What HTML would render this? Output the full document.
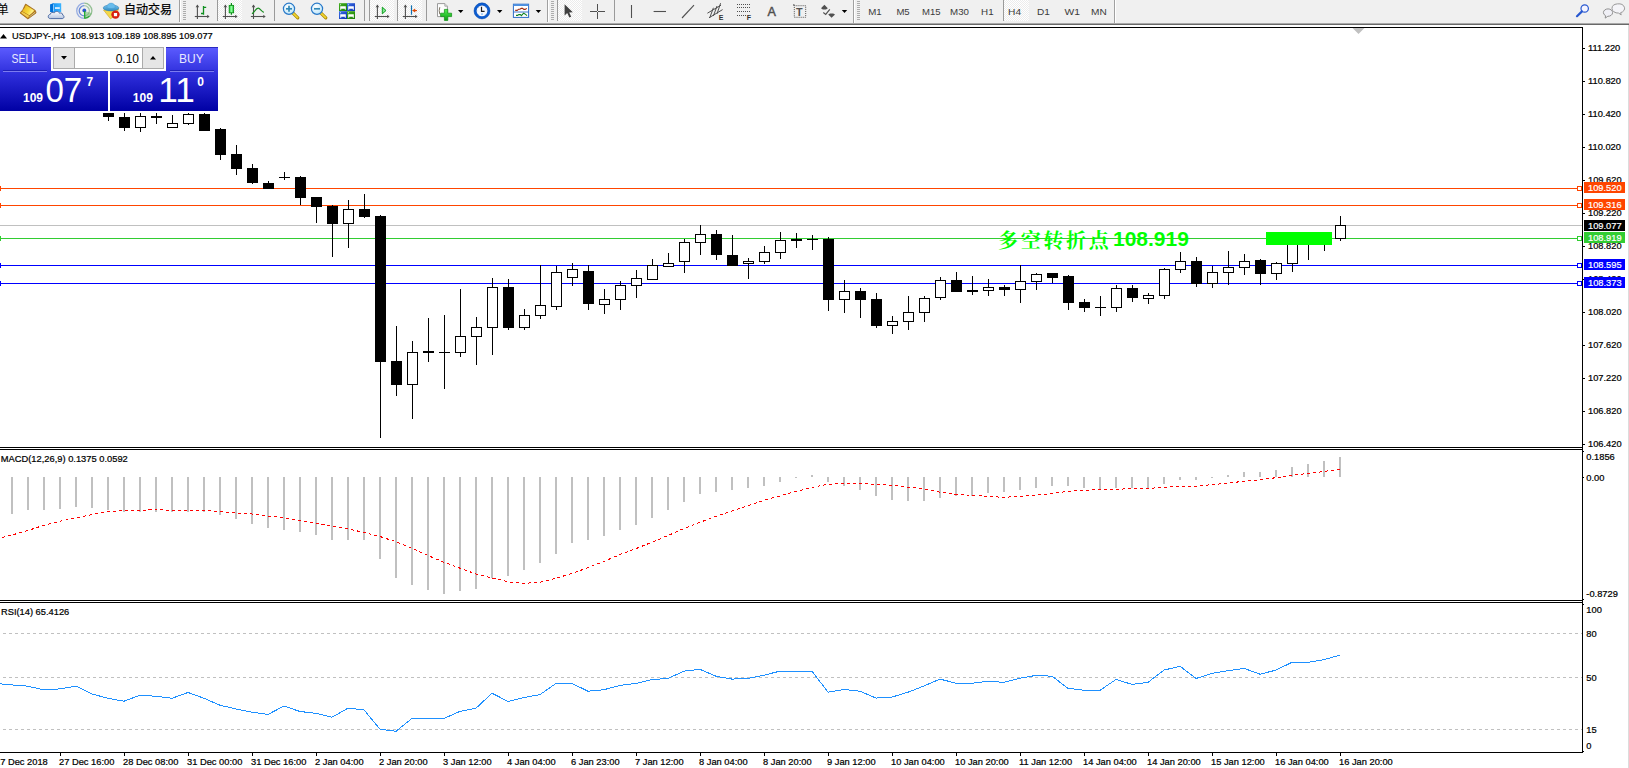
<!DOCTYPE html>
<html><head><meta charset="utf-8"><title>USDJPY H4</title>
<style>
html,body{margin:0;padding:0;background:#fff;}
body{width:1629px;height:768px;position:relative;overflow:hidden;font-family:"Liberation Sans","Noto Sans CJK SC",sans-serif;}
#tb{position:absolute;left:0;top:0;width:1629px;height:23px;background:#F0F0F0;}
#tbl1{position:absolute;left:0;top:23px;width:1629px;height:1px;background:#A9A9A9;}
#tbl2{position:absolute;left:0;top:24px;width:1629px;height:1px;background:#696969;}
#redge{position:absolute;left:1628px;top:25px;width:1px;height:743px;background:#DCDCDC;}
</style></head><body>
<svg id="chart" width="1629" height="768" viewBox="0 0 1629 768" style="position:absolute;left:0;top:0">
<g shape-rendering="crispEdges">
<rect x="0" y="225" width="1582" height="1" fill="#C0C0C0"/>
<rect x="0" y="188" width="1582" height="1" fill="#FF4500"/>
<rect x="0" y="186" width="1" height="5" fill="#FF4500"/>
<rect x="0" y="205" width="1582" height="1" fill="#FF4500"/>
<rect x="0" y="203" width="1" height="5" fill="#FF4500"/>
<rect x="0" y="238" width="1582" height="1" fill="#32CD32"/>
<rect x="0" y="236" width="1" height="5" fill="#32CD32"/>
<rect x="0" y="265" width="1582" height="1" fill="#0000FF"/>
<rect x="0" y="263" width="1" height="5" fill="#0000FF"/>
<rect x="0" y="283" width="1582" height="1" fill="#0000FF"/>
<rect x="0" y="281" width="1" height="5" fill="#0000FF"/>
<rect x="108" y="113" width="1" height="8" fill="#000"/>
<rect x="103" y="113" width="11" height="4" fill="#000"/>
<rect x="124" y="113" width="1" height="18" fill="#000"/>
<rect x="119" y="117" width="11" height="11" fill="#000"/>
<rect x="140" y="113" width="1" height="19" fill="#000"/>
<rect x="135" y="116" width="11" height="12" fill="#000"/>
<rect x="136" y="117" width="9" height="10" fill="#fff"/>
<rect x="156" y="113" width="1" height="11" fill="#000"/>
<rect x="151" y="116" width="11" height="2" fill="#000"/>
<rect x="172" y="115" width="1" height="13" fill="#000"/>
<rect x="167" y="123" width="11" height="5" fill="#000"/>
<rect x="168" y="124" width="9" height="3" fill="#fff"/>
<rect x="188" y="113" width="1" height="12" fill="#000"/>
<rect x="183" y="114" width="11" height="10" fill="#000"/>
<rect x="184" y="115" width="9" height="8" fill="#fff"/>
<rect x="204" y="113" width="1" height="18" fill="#000"/>
<rect x="199" y="114" width="11" height="17" fill="#000"/>
<rect x="220" y="128" width="1" height="32" fill="#000"/>
<rect x="215" y="129" width="11" height="26" fill="#000"/>
<rect x="236" y="145" width="1" height="30" fill="#000"/>
<rect x="231" y="154" width="11" height="15" fill="#000"/>
<rect x="252" y="164" width="1" height="20" fill="#000"/>
<rect x="247" y="168" width="11" height="15" fill="#000"/>
<rect x="268" y="181" width="1" height="8" fill="#000"/>
<rect x="263" y="183" width="11" height="6" fill="#000"/>
<rect x="284" y="172" width="1" height="8" fill="#000"/>
<rect x="279" y="177" width="11" height="1" fill="#000"/>
<rect x="300" y="176" width="1" height="29" fill="#000"/>
<rect x="295" y="177" width="11" height="21" fill="#000"/>
<rect x="316" y="197" width="1" height="26" fill="#000"/>
<rect x="311" y="197" width="11" height="10" fill="#000"/>
<rect x="332" y="205" width="1" height="52" fill="#000"/>
<rect x="327" y="206" width="11" height="18" fill="#000"/>
<rect x="348" y="200" width="1" height="48" fill="#000"/>
<rect x="343" y="209" width="11" height="15" fill="#000"/>
<rect x="344" y="210" width="9" height="13" fill="#fff"/>
<rect x="364" y="194" width="1" height="24" fill="#000"/>
<rect x="359" y="209" width="11" height="8" fill="#000"/>
<rect x="380" y="215" width="1" height="223" fill="#000"/>
<rect x="375" y="216" width="11" height="146" fill="#000"/>
<rect x="396" y="326" width="1" height="70" fill="#000"/>
<rect x="391" y="361" width="11" height="24" fill="#000"/>
<rect x="412" y="341" width="1" height="78" fill="#000"/>
<rect x="407" y="352" width="11" height="33" fill="#000"/>
<rect x="408" y="353" width="9" height="31" fill="#fff"/>
<rect x="428" y="318" width="1" height="44" fill="#000"/>
<rect x="423" y="351" width="11" height="2" fill="#000"/>
<rect x="444" y="315" width="1" height="74" fill="#000"/>
<rect x="439" y="352" width="11" height="1" fill="#000"/>
<rect x="460" y="289" width="1" height="68" fill="#000"/>
<rect x="455" y="336" width="11" height="17" fill="#000"/>
<rect x="456" y="337" width="9" height="15" fill="#fff"/>
<rect x="476" y="317" width="1" height="48" fill="#000"/>
<rect x="471" y="327" width="11" height="10" fill="#000"/>
<rect x="472" y="328" width="9" height="8" fill="#fff"/>
<rect x="492" y="278" width="1" height="77" fill="#000"/>
<rect x="487" y="287" width="11" height="41" fill="#000"/>
<rect x="488" y="288" width="9" height="39" fill="#fff"/>
<rect x="508" y="279" width="1" height="51" fill="#000"/>
<rect x="503" y="287" width="11" height="41" fill="#000"/>
<rect x="524" y="309" width="1" height="21" fill="#000"/>
<rect x="519" y="315" width="11" height="13" fill="#000"/>
<rect x="520" y="316" width="9" height="11" fill="#fff"/>
<rect x="540" y="265" width="1" height="54" fill="#000"/>
<rect x="535" y="305" width="11" height="11" fill="#000"/>
<rect x="536" y="306" width="9" height="9" fill="#fff"/>
<rect x="556" y="266" width="1" height="44" fill="#000"/>
<rect x="551" y="272" width="11" height="35" fill="#000"/>
<rect x="552" y="273" width="9" height="33" fill="#fff"/>
<rect x="572" y="263" width="1" height="23" fill="#000"/>
<rect x="567" y="269" width="11" height="9" fill="#000"/>
<rect x="568" y="270" width="9" height="7" fill="#fff"/>
<rect x="588" y="265" width="1" height="45" fill="#000"/>
<rect x="583" y="271" width="11" height="33" fill="#000"/>
<rect x="604" y="289" width="1" height="25" fill="#000"/>
<rect x="599" y="299" width="11" height="6" fill="#000"/>
<rect x="600" y="300" width="9" height="4" fill="#fff"/>
<rect x="620" y="281" width="1" height="29" fill="#000"/>
<rect x="615" y="285" width="11" height="15" fill="#000"/>
<rect x="616" y="286" width="9" height="13" fill="#fff"/>
<rect x="636" y="270" width="1" height="28" fill="#000"/>
<rect x="631" y="278" width="11" height="8" fill="#000"/>
<rect x="632" y="279" width="9" height="6" fill="#fff"/>
<rect x="652" y="259" width="1" height="21" fill="#000"/>
<rect x="647" y="265" width="11" height="15" fill="#000"/>
<rect x="648" y="266" width="9" height="13" fill="#fff"/>
<rect x="668" y="253" width="1" height="14" fill="#000"/>
<rect x="663" y="263" width="11" height="4" fill="#000"/>
<rect x="664" y="264" width="9" height="2" fill="#fff"/>
<rect x="684" y="239" width="1" height="34" fill="#000"/>
<rect x="679" y="242" width="11" height="20" fill="#000"/>
<rect x="680" y="243" width="9" height="18" fill="#fff"/>
<rect x="700" y="225" width="1" height="30" fill="#000"/>
<rect x="695" y="234" width="11" height="9" fill="#000"/>
<rect x="696" y="235" width="9" height="7" fill="#fff"/>
<rect x="716" y="230" width="1" height="30" fill="#000"/>
<rect x="711" y="234" width="11" height="21" fill="#000"/>
<rect x="732" y="235" width="1" height="31" fill="#000"/>
<rect x="727" y="255" width="11" height="11" fill="#000"/>
<rect x="748" y="258" width="1" height="21" fill="#000"/>
<rect x="743" y="261" width="11" height="3" fill="#000"/>
<rect x="744" y="262" width="9" height="1" fill="#fff"/>
<rect x="764" y="246" width="1" height="18" fill="#000"/>
<rect x="759" y="252" width="11" height="10" fill="#000"/>
<rect x="760" y="253" width="9" height="8" fill="#fff"/>
<rect x="780" y="232" width="1" height="27" fill="#000"/>
<rect x="775" y="240" width="11" height="13" fill="#000"/>
<rect x="776" y="241" width="9" height="11" fill="#fff"/>
<rect x="796" y="233" width="1" height="15" fill="#000"/>
<rect x="791" y="239" width="11" height="2" fill="#000"/>
<rect x="812" y="235" width="1" height="15" fill="#000"/>
<rect x="807" y="239" width="11" height="1" fill="#000"/>
<rect x="828" y="237" width="1" height="74" fill="#000"/>
<rect x="823" y="239" width="11" height="61" fill="#000"/>
<rect x="844" y="280" width="1" height="33" fill="#000"/>
<rect x="839" y="291" width="11" height="9" fill="#000"/>
<rect x="840" y="292" width="9" height="7" fill="#fff"/>
<rect x="860" y="288" width="1" height="30" fill="#000"/>
<rect x="855" y="291" width="11" height="9" fill="#000"/>
<rect x="876" y="293" width="1" height="35" fill="#000"/>
<rect x="871" y="299" width="11" height="27" fill="#000"/>
<rect x="892" y="316" width="1" height="18" fill="#000"/>
<rect x="887" y="321" width="11" height="5" fill="#000"/>
<rect x="888" y="322" width="9" height="3" fill="#fff"/>
<rect x="908" y="296" width="1" height="34" fill="#000"/>
<rect x="903" y="312" width="11" height="10" fill="#000"/>
<rect x="904" y="313" width="9" height="8" fill="#fff"/>
<rect x="924" y="296" width="1" height="26" fill="#000"/>
<rect x="919" y="298" width="11" height="15" fill="#000"/>
<rect x="920" y="299" width="9" height="13" fill="#fff"/>
<rect x="940" y="277" width="1" height="23" fill="#000"/>
<rect x="935" y="280" width="11" height="18" fill="#000"/>
<rect x="936" y="281" width="9" height="16" fill="#fff"/>
<rect x="956" y="272" width="1" height="20" fill="#000"/>
<rect x="951" y="280" width="11" height="12" fill="#000"/>
<rect x="972" y="276" width="1" height="19" fill="#000"/>
<rect x="967" y="290" width="11" height="2" fill="#000"/>
<rect x="988" y="279" width="1" height="17" fill="#000"/>
<rect x="983" y="287" width="11" height="4" fill="#000"/>
<rect x="984" y="288" width="9" height="2" fill="#fff"/>
<rect x="1004" y="285" width="1" height="11" fill="#000"/>
<rect x="999" y="287" width="11" height="3" fill="#000"/>
<rect x="1020" y="265" width="1" height="38" fill="#000"/>
<rect x="1015" y="281" width="11" height="9" fill="#000"/>
<rect x="1016" y="282" width="9" height="7" fill="#fff"/>
<rect x="1036" y="273" width="1" height="17" fill="#000"/>
<rect x="1031" y="274" width="11" height="8" fill="#000"/>
<rect x="1032" y="275" width="9" height="6" fill="#fff"/>
<rect x="1052" y="273" width="1" height="10" fill="#000"/>
<rect x="1047" y="273" width="11" height="5" fill="#000"/>
<rect x="1068" y="275" width="1" height="35" fill="#000"/>
<rect x="1063" y="276" width="11" height="27" fill="#000"/>
<rect x="1084" y="299" width="1" height="13" fill="#000"/>
<rect x="1079" y="302" width="11" height="6" fill="#000"/>
<rect x="1100" y="296" width="1" height="20" fill="#000"/>
<rect x="1095" y="307" width="11" height="1" fill="#000"/>
<rect x="1116" y="285" width="1" height="27" fill="#000"/>
<rect x="1111" y="288" width="11" height="20" fill="#000"/>
<rect x="1112" y="289" width="9" height="18" fill="#fff"/>
<rect x="1132" y="285" width="1" height="17" fill="#000"/>
<rect x="1127" y="288" width="11" height="10" fill="#000"/>
<rect x="1148" y="293" width="1" height="11" fill="#000"/>
<rect x="1143" y="295" width="11" height="4" fill="#000"/>
<rect x="1144" y="296" width="9" height="2" fill="#fff"/>
<rect x="1164" y="268" width="1" height="31" fill="#000"/>
<rect x="1159" y="269" width="11" height="27" fill="#000"/>
<rect x="1160" y="270" width="9" height="25" fill="#fff"/>
<rect x="1180" y="252" width="1" height="21" fill="#000"/>
<rect x="1175" y="261" width="11" height="9" fill="#000"/>
<rect x="1176" y="262" width="9" height="7" fill="#fff"/>
<rect x="1196" y="257" width="1" height="30" fill="#000"/>
<rect x="1191" y="261" width="11" height="23" fill="#000"/>
<rect x="1212" y="266" width="1" height="22" fill="#000"/>
<rect x="1207" y="272" width="11" height="12" fill="#000"/>
<rect x="1208" y="273" width="9" height="10" fill="#fff"/>
<rect x="1228" y="251" width="1" height="34" fill="#000"/>
<rect x="1223" y="267" width="11" height="6" fill="#000"/>
<rect x="1224" y="268" width="9" height="4" fill="#fff"/>
<rect x="1244" y="254" width="1" height="21" fill="#000"/>
<rect x="1239" y="261" width="11" height="7" fill="#000"/>
<rect x="1240" y="262" width="9" height="5" fill="#fff"/>
<rect x="1260" y="259" width="1" height="26" fill="#000"/>
<rect x="1255" y="260" width="11" height="14" fill="#000"/>
<rect x="1276" y="262" width="1" height="18" fill="#000"/>
<rect x="1271" y="263" width="11" height="11" fill="#000"/>
<rect x="1272" y="264" width="9" height="9" fill="#fff"/>
<rect x="1292" y="236" width="1" height="36" fill="#000"/>
<rect x="1287" y="240" width="11" height="24" fill="#000"/>
<rect x="1288" y="241" width="9" height="22" fill="#fff"/>
<rect x="1308" y="234" width="1" height="26" fill="#000"/>
<rect x="1303" y="236" width="11" height="9" fill="#000"/>
<rect x="1304" y="237" width="9" height="7" fill="#fff"/>
<rect x="1324" y="234" width="1" height="17" fill="#000"/>
<rect x="1319" y="238" width="11" height="6" fill="#000"/>
<rect x="1320" y="239" width="9" height="4" fill="#fff"/>
<rect x="1340" y="216" width="1" height="25" fill="#000"/>
<rect x="1335" y="225" width="11" height="14" fill="#000"/>
<rect x="1336" y="226" width="9" height="12" fill="#fff"/>
<rect x="1266" y="232" width="66" height="13" fill="#00FF00"/>
<rect x="11" y="477" width="2" height="37" fill="#C0C0C0"/>
<rect x="27" y="477" width="2" height="33" fill="#C0C0C0"/>
<rect x="43" y="477" width="2" height="33" fill="#C0C0C0"/>
<rect x="59" y="477" width="2" height="32" fill="#C0C0C0"/>
<rect x="75" y="477" width="2" height="30" fill="#C0C0C0"/>
<rect x="91" y="477" width="2" height="31" fill="#C0C0C0"/>
<rect x="107" y="477" width="2" height="33" fill="#C0C0C0"/>
<rect x="123" y="477" width="2" height="35" fill="#C0C0C0"/>
<rect x="139" y="477" width="2" height="35" fill="#C0C0C0"/>
<rect x="155" y="477" width="2" height="35" fill="#C0C0C0"/>
<rect x="171" y="477" width="2" height="35" fill="#C0C0C0"/>
<rect x="187" y="477" width="2" height="35" fill="#C0C0C0"/>
<rect x="203" y="477" width="2" height="35" fill="#C0C0C0"/>
<rect x="219" y="477" width="2" height="38" fill="#C0C0C0"/>
<rect x="235" y="477" width="2" height="42" fill="#C0C0C0"/>
<rect x="251" y="477" width="2" height="47" fill="#C0C0C0"/>
<rect x="267" y="477" width="2" height="51" fill="#C0C0C0"/>
<rect x="283" y="477" width="2" height="53" fill="#C0C0C0"/>
<rect x="299" y="477" width="2" height="55" fill="#C0C0C0"/>
<rect x="315" y="477" width="2" height="58" fill="#C0C0C0"/>
<rect x="331" y="477" width="2" height="63" fill="#C0C0C0"/>
<rect x="347" y="477" width="2" height="63" fill="#C0C0C0"/>
<rect x="363" y="477" width="2" height="63" fill="#C0C0C0"/>
<rect x="379" y="477" width="2" height="82" fill="#C0C0C0"/>
<rect x="395" y="477" width="2" height="101" fill="#C0C0C0"/>
<rect x="411" y="477" width="2" height="108" fill="#C0C0C0"/>
<rect x="427" y="477" width="2" height="113" fill="#C0C0C0"/>
<rect x="443" y="477" width="2" height="117" fill="#C0C0C0"/>
<rect x="459" y="477" width="2" height="114" fill="#C0C0C0"/>
<rect x="475" y="477" width="2" height="112" fill="#C0C0C0"/>
<rect x="491" y="477" width="2" height="101" fill="#C0C0C0"/>
<rect x="507" y="477" width="2" height="99" fill="#C0C0C0"/>
<rect x="523" y="477" width="2" height="93" fill="#C0C0C0"/>
<rect x="539" y="477" width="2" height="86" fill="#C0C0C0"/>
<rect x="555" y="477" width="2" height="77" fill="#C0C0C0"/>
<rect x="571" y="477" width="2" height="66" fill="#C0C0C0"/>
<rect x="587" y="477" width="2" height="63" fill="#C0C0C0"/>
<rect x="603" y="477" width="2" height="59" fill="#C0C0C0"/>
<rect x="619" y="477" width="2" height="53" fill="#C0C0C0"/>
<rect x="635" y="477" width="2" height="48" fill="#C0C0C0"/>
<rect x="651" y="477" width="2" height="41" fill="#C0C0C0"/>
<rect x="667" y="477" width="2" height="33" fill="#C0C0C0"/>
<rect x="683" y="477" width="2" height="25" fill="#C0C0C0"/>
<rect x="699" y="477" width="2" height="17" fill="#C0C0C0"/>
<rect x="715" y="477" width="2" height="15" fill="#C0C0C0"/>
<rect x="731" y="477" width="2" height="13" fill="#C0C0C0"/>
<rect x="747" y="477" width="2" height="11" fill="#C0C0C0"/>
<rect x="763" y="477" width="2" height="9" fill="#C0C0C0"/>
<rect x="779" y="477" width="2" height="5" fill="#C0C0C0"/>
<rect x="795" y="477" width="2" height="1" fill="#C0C0C0"/>
<rect x="811" y="475" width="2" height="2" fill="#C0C0C0"/>
<rect x="827" y="477" width="2" height="5" fill="#C0C0C0"/>
<rect x="843" y="477" width="2" height="9" fill="#C0C0C0"/>
<rect x="859" y="477" width="2" height="13" fill="#C0C0C0"/>
<rect x="875" y="477" width="2" height="19" fill="#C0C0C0"/>
<rect x="891" y="477" width="2" height="23" fill="#C0C0C0"/>
<rect x="907" y="477" width="2" height="24" fill="#C0C0C0"/>
<rect x="923" y="477" width="2" height="24" fill="#C0C0C0"/>
<rect x="939" y="477" width="2" height="21" fill="#C0C0C0"/>
<rect x="955" y="477" width="2" height="19" fill="#C0C0C0"/>
<rect x="971" y="477" width="2" height="19" fill="#C0C0C0"/>
<rect x="987" y="477" width="2" height="16" fill="#C0C0C0"/>
<rect x="1003" y="477" width="2" height="15" fill="#C0C0C0"/>
<rect x="1019" y="477" width="2" height="13" fill="#C0C0C0"/>
<rect x="1035" y="477" width="2" height="11" fill="#C0C0C0"/>
<rect x="1051" y="477" width="2" height="9" fill="#C0C0C0"/>
<rect x="1067" y="477" width="2" height="9" fill="#C0C0C0"/>
<rect x="1083" y="477" width="2" height="11" fill="#C0C0C0"/>
<rect x="1099" y="477" width="2" height="13" fill="#C0C0C0"/>
<rect x="1115" y="477" width="2" height="11" fill="#C0C0C0"/>
<rect x="1131" y="477" width="2" height="11" fill="#C0C0C0"/>
<rect x="1147" y="477" width="2" height="11" fill="#C0C0C0"/>
<rect x="1163" y="477" width="2" height="7" fill="#C0C0C0"/>
<rect x="1179" y="477" width="2" height="3" fill="#C0C0C0"/>
<rect x="1195" y="477" width="2" height="3" fill="#C0C0C0"/>
<rect x="1211" y="477" width="2" height="1" fill="#C0C0C0"/>
<rect x="1227" y="475" width="2" height="2" fill="#C0C0C0"/>
<rect x="1243" y="472" width="2" height="5" fill="#C0C0C0"/>
<rect x="1259" y="472" width="2" height="5" fill="#C0C0C0"/>
<rect x="1275" y="470" width="2" height="7" fill="#C0C0C0"/>
<rect x="1291" y="467" width="2" height="10" fill="#C0C0C0"/>
<rect x="1307" y="464" width="2" height="13" fill="#C0C0C0"/>
<rect x="1323" y="461" width="2" height="16" fill="#C0C0C0"/>
<rect x="1339" y="457" width="2" height="20" fill="#C0C0C0"/>
</g>
<polyline fill="none" stroke="#FF0000" stroke-width="1" stroke-dasharray="3 3" shape-rendering="crispEdges" points="-4,539.0 12,535.0 28,530.5 44,525.2 60,521.3 76,518.0 92,514.5 108,511.5 124,510.7 140,510.5 156,509.2 172,510.5 188,510.5 204,510.5 220,511.5 236,512.9 252,514.0 268,516.0 284,517.8 300,520.7 316,523.6 332,526.2 348,528.7 364,532.6 380,536.5 396,541.8 412,548.2 428,555.5 444,562.3 460,568.2 476,574.0 492,577.9 508,581.8 524,583.4 540,582.2 556,578.3 572,573.4 588,567.7 604,561.3 620,554.5 636,548.6 652,542.2 668,535.5 684,528.5 700,522.3 716,516.4 732,510.9 748,505.7 764,500.2 780,495.9 796,491.4 812,487.5 828,484.2 844,483.6 860,483.6 876,484.4 892,485.4 908,487.1 924,489.0 940,492.2 956,494.3 972,495.3 988,496.5 1004,497.3 1020,496.3 1036,495.3 1052,493.4 1068,491.4 1084,490.4 1100,489.6 1116,489.3 1132,488.6 1148,488.6 1164,487.1 1180,486.5 1196,486.1 1212,484.6 1228,483.2 1244,481.2 1260,479.7 1276,477.7 1292,475.4 1308,473.4 1324,471.5 1340,469.1"/>
<line x1="3" y1="633.5" x2="1582" y2="633.5" stroke="#C0C0C0" stroke-width="1" stroke-dasharray="3 3" shape-rendering="crispEdges"/>
<line x1="3" y1="677.5" x2="1582" y2="677.5" stroke="#C0C0C0" stroke-width="1" stroke-dasharray="3 3" shape-rendering="crispEdges"/>
<line x1="3" y1="729.5" x2="1582" y2="729.5" stroke="#C0C0C0" stroke-width="1" stroke-dasharray="3 3" shape-rendering="crispEdges"/>
<polyline fill="none" stroke="#1E90FF" stroke-width="1" shape-rendering="crispEdges" points="-4,683.5 12,684.9 28,686.2 44,690.0 60,688.9 76,686.2 92,694.0 108,698.3 124,701.2 140,695.2 156,696.3 172,698.3 188,692.5 204,698.3 220,705.2 236,709.0 252,712.2 268,714.4 284,706.1 300,711.5 316,713.3 332,717.2 348,708.2 364,709.8 380,729.3 396,731.3 412,718.4 428,718.4 444,718.4 460,711.4 476,708.2 492,693.2 508,701.4 524,697.5 540,694.6 556,683.4 572,683.4 588,691.2 604,689.7 620,685.4 636,683.4 652,679.5 668,678.5 684,671.1 700,669.4 716,676.2 732,679.1 748,678.5 764,675.2 780,671.1 796,671.1 812,671.1 828,692.2 844,689.5 860,691.2 876,698.1 892,697.1 908,692.2 924,686.0 940,679.1 956,683.2 972,683.2 988,681.3 1004,682.3 1020,678.2 1036,675.4 1052,676.2 1068,688.3 1084,690.3 1100,690.3 1116,679.5 1132,684.4 1148,682.3 1164,670.1 1180,666.2 1196,678.5 1212,673.3 1228,670.7 1244,668.4 1260,674.2 1276,670.1 1292,662.3 1308,662.3 1324,659.6 1340,655.1"/>
<g shape-rendering="crispEdges">
<rect x="0" y="27" width="1583" height="1" fill="#000"/>
<rect x="1582" y="27" width="1" height="726" fill="#000"/>
<rect x="0" y="447" width="1583" height="1" fill="#000"/>
<rect x="0" y="449" width="1583" height="1" fill="#000"/>
<rect x="0" y="600" width="1583" height="1" fill="#000"/>
<rect x="0" y="602" width="1583" height="1" fill="#000"/>
<rect x="0" y="752" width="1583" height="1" fill="#000"/>
<rect x="-4" y="753" width="1" height="3" fill="#000"/>
<rect x="60" y="753" width="1" height="3" fill="#000"/>
<rect x="124" y="753" width="1" height="3" fill="#000"/>
<rect x="188" y="753" width="1" height="3" fill="#000"/>
<rect x="252" y="753" width="1" height="3" fill="#000"/>
<rect x="316" y="753" width="1" height="3" fill="#000"/>
<rect x="380" y="753" width="1" height="3" fill="#000"/>
<rect x="444" y="753" width="1" height="3" fill="#000"/>
<rect x="508" y="753" width="1" height="3" fill="#000"/>
<rect x="572" y="753" width="1" height="3" fill="#000"/>
<rect x="636" y="753" width="1" height="3" fill="#000"/>
<rect x="700" y="753" width="1" height="3" fill="#000"/>
<rect x="764" y="753" width="1" height="3" fill="#000"/>
<rect x="828" y="753" width="1" height="3" fill="#000"/>
<rect x="892" y="753" width="1" height="3" fill="#000"/>
<rect x="956" y="753" width="1" height="3" fill="#000"/>
<rect x="1020" y="753" width="1" height="3" fill="#000"/>
<rect x="1084" y="753" width="1" height="3" fill="#000"/>
<rect x="1148" y="753" width="1" height="3" fill="#000"/>
<rect x="1212" y="753" width="1" height="3" fill="#000"/>
<rect x="1276" y="753" width="1" height="3" fill="#000"/>
<rect x="1340" y="753" width="1" height="3" fill="#000"/>
<rect x="1583" y="48" width="2" height="1" fill="#000"/>
<rect x="1583" y="81" width="2" height="1" fill="#000"/>
<rect x="1583" y="114" width="2" height="1" fill="#000"/>
<rect x="1583" y="147" width="2" height="1" fill="#000"/>
<rect x="1583" y="180" width="2" height="1" fill="#000"/>
<rect x="1583" y="213" width="2" height="1" fill="#000"/>
<rect x="1583" y="246" width="2" height="1" fill="#000"/>
<rect x="1583" y="279" width="2" height="1" fill="#000"/>
<rect x="1583" y="312" width="2" height="1" fill="#000"/>
<rect x="1583" y="345" width="2" height="1" fill="#000"/>
<rect x="1583" y="378" width="2" height="1" fill="#000"/>
<rect x="1583" y="411" width="2" height="1" fill="#000"/>
<rect x="1583" y="444" width="2" height="1" fill="#000"/>
<rect x="1583" y="451" width="1" height="1" fill="#000"/>
<rect x="1583" y="477" width="1" height="1" fill="#000"/>
<rect x="1583" y="599" width="1" height="1" fill="#000"/>
<rect x="1583" y="604" width="1" height="1" fill="#000"/>
<rect x="1583" y="751" width="1" height="1" fill="#000"/>
</g>
<polygon points="1352.5,28 1364.5,28 1358.5,34" fill="#C0C0C0"/>
<g font-family="'Liberation Sans','DejaVu Sans',sans-serif" font-size="9.3px" fill="#000" stroke="#000" stroke-width="0.22">
<text x="1588" y="51.4">111.220</text>
<text x="1588" y="84.4">110.820</text>
<text x="1588" y="117.4">110.420</text>
<text x="1588" y="150.4">110.020</text>
<text x="1588" y="183.4">109.620</text>
<text x="1588" y="216.4">109.220</text>
<text x="1588" y="249.4">108.820</text>
<text x="1588" y="282.4">108.420</text>
<text x="1588" y="315.4">108.020</text>
<text x="1588" y="348.4">107.620</text>
<text x="1588" y="381.4">107.220</text>
<text x="1588" y="414.4">106.820</text>
<text x="1588" y="447.4">106.420</text>
<text x="1586.3" y="459.6">0.1856</text>
<text x="1586.3" y="480.6">0.00</text>
<text x="1586.3" y="597.0">-0.8729</text>
<text x="1586.3" y="612.6">100</text>
<text x="1586.3" y="636.6">80</text>
<text x="1586.3" y="680.6">50</text>
<text x="1586.3" y="732.6">15</text>
<text x="1586.3" y="748.6">0</text>
</g>
<g shape-rendering="crispEdges">
<rect x="1584" y="182" width="41" height="11" fill="#FF4500"/>
<rect x="1577" y="186" width="5" height="5" fill="#FF4500"/><rect x="1578" y="187" width="3" height="3" fill="#fff"/>
<rect x="1584" y="199" width="41" height="11" fill="#FF4500"/>
<rect x="1577" y="203" width="5" height="5" fill="#FF4500"/><rect x="1578" y="204" width="3" height="3" fill="#fff"/>
<rect x="1584" y="220" width="41" height="11" fill="#000"/>
<rect x="1584" y="232" width="41" height="11" fill="#32CD32"/>
<rect x="1577" y="236" width="5" height="5" fill="#32CD32"/><rect x="1578" y="237" width="3" height="3" fill="#fff"/>
<rect x="1584" y="259" width="41" height="11" fill="#0000FF"/>
<rect x="1577" y="263" width="5" height="5" fill="#0000FF"/><rect x="1578" y="264" width="3" height="3" fill="#fff"/>
<rect x="1584" y="277" width="41" height="11" fill="#0000FF"/>
<rect x="1577" y="281" width="5" height="5" fill="#0000FF"/><rect x="1578" y="282" width="3" height="3" fill="#fff"/>
</g>
<g font-family="'Liberation Sans','DejaVu Sans',sans-serif" font-size="9.3px" fill="#fff" stroke="#fff" stroke-width="0.2">
<text x="1588" y="191">109.520</text>
<text x="1588" y="208">109.316</text>
<text x="1588" y="229">109.077</text>
<text x="1588" y="241">108.919</text>
<text x="1588" y="268">108.595</text>
<text x="1588" y="286">108.373</text>
</g>
<g font-family="'Liberation Sans','DejaVu Sans',sans-serif" font-size="9.3px" fill="#000" stroke="#000" stroke-width="0.22">
<text x="12" y="39.3" xml:space="preserve">USDJPY-,H4  108.913 109.189 108.895 109.077</text>
<text x="0.8" y="461.5" textLength="127" lengthAdjust="spacingAndGlyphs">MACD(12,26,9) 0.1375 0.0592</text>
<text x="1" y="615">RSI(14) 65.4126</text>
<text x="-5" y="765">27 Dec 2018</text>
<text x="59" y="765">27 Dec 16:00</text>
<text x="123" y="765">28 Dec 08:00</text>
<text x="187" y="765">31 Dec 00:00</text>
<text x="251" y="765">31 Dec 16:00</text>
<text x="315" y="765">2 Jan 04:00</text>
<text x="379" y="765">2 Jan 20:00</text>
<text x="443" y="765">3 Jan 12:00</text>
<text x="507" y="765">4 Jan 04:00</text>
<text x="571" y="765">6 Jan 23:00</text>
<text x="635" y="765">7 Jan 12:00</text>
<text x="699" y="765">8 Jan 04:00</text>
<text x="763" y="765">8 Jan 20:00</text>
<text x="827" y="765">9 Jan 12:00</text>
<text x="891" y="765">10 Jan 04:00</text>
<text x="955" y="765">10 Jan 20:00</text>
<text x="1019" y="765">11 Jan 12:00</text>
<text x="1083" y="765">14 Jan 04:00</text>
<text x="1147" y="765">14 Jan 20:00</text>
<text x="1211" y="765">15 Jan 12:00</text>
<text x="1275" y="765">16 Jan 04:00</text>
<text x="1339" y="765">16 Jan 20:00</text>
</g>
<polygon points="0,38.5 3.5,34 7,38.5" fill="#000"/>
<text x="998" y="247.5" fill="#00FF00" font-weight="bold" font-size="20px"><tspan font-family="'Liberation Serif','Noto Serif CJK SC',serif" font-weight="700" letter-spacing="2.7">多空转折点</tspan><tspan x="1113" y="246.4" font-family="'Liberation Sans',sans-serif" font-size="21px">108.919</tspan></text>
</svg>
<div id="tb"></div><div id="tbl1"></div><div id="tbl2"></div><div id="redge"></div>
<svg id="toolbar" width="1629" height="23" viewBox="0 0 1629 23" style="position:absolute;left:0;top:0">
<defs>
<linearGradient id="gold" x1="0" y1="0.2" x2="1" y2="0.6"><stop offset="0" stop-color="#E8B020"/><stop offset="0.55" stop-color="#F6D838"/><stop offset="0.85" stop-color="#FFF088"/><stop offset="1" stop-color="#E8B828"/></linearGradient>
<linearGradient id="srv" x1="0" y1="0" x2="1" y2="0"><stop offset="0" stop-color="#0A8CF0"/><stop offset="1" stop-color="#3CB4FF"/></linearGradient>
<linearGradient id="cloud" x1="0" y1="0" x2="0" y2="1"><stop offset="0" stop-color="#FFFFFF"/><stop offset="1" stop-color="#B4C4E0"/></linearGradient>
<linearGradient id="grn" x1="0" y1="0" x2="1" y2="0"><stop offset="0" stop-color="#20D030"/><stop offset="0.5" stop-color="#90FFA0"/><stop offset="1" stop-color="#20C030"/></linearGradient>
<radialGradient id="lens" cx="0.4" cy="0.35" r="0.7"><stop offset="0" stop-color="#FFFFFF"/><stop offset="1" stop-color="#B8E4FA"/></radialGradient>
<linearGradient id="hat" x1="0" y1="0" x2="0" y2="1"><stop offset="0" stop-color="#7CC8F0"/><stop offset="1" stop-color="#2C88C0"/></linearGradient>
<linearGradient id="plus" x1="0" y1="0" x2="0" y2="1"><stop offset="0" stop-color="#50F050"/><stop offset="1" stop-color="#0C9C14"/></linearGradient>
<linearGradient id="tg" x1="0" y1="0" x2="1" y2="1"><stop offset="0" stop-color="#44B020"/><stop offset="1" stop-color="#1C8008"/></linearGradient>
<linearGradient id="tbq" x1="0" y1="0" x2="1" y2="1"><stop offset="0" stop-color="#3C70E8"/><stop offset="1" stop-color="#0C30B0"/></linearGradient>
<pattern id="chk" width="2" height="2" patternUnits="userSpaceOnUse"><rect width="2" height="2" fill="#FFFFFF"/><rect width="1" height="1" fill="#ECECEC"/><rect x="1" y="1" width="1" height="1" fill="#ECECEC"/></pattern>
</defs>
<rect x="0" y="0" width="1629" height="23" fill="#F0F0F0"/>
<text x="-3.2" y="14" font-family="'Liberation Sans','Noto Sans CJK SC',sans-serif" font-size="12px" fill="#000">单</text>
<path d="M25.6 4 L35.3 10.4 L36.1 12.9 L27.9 19 L20 12.9 Q23.4 10 24.3 6.6 Z" fill="#A66A10" stroke="#A06410" stroke-width="0.7" stroke-linejoin="round"/>
<path d="M25.9 5.1 L34.7 10.8 L29.4 15.3 L22.1 11.3 Q24.6 8.6 25.9 5.1 Z" fill="url(#gold)"/>
<path d="M20.9 12.8 L22.2 11.7 L29.3 15.8 L28 18 Z" fill="#F2CC4C"/>
<path d="M29.8 15.9 L35 11.7 L35.4 12.8 L28.8 17.8 Z" fill="#D4C284"/>
<polygon points="50.2,4.6 53.5,3.2 61.2,3.2 61.2,12 50.2,12" fill="url(#srv)"/>
<polygon points="50.2,4.6 53.5,3.2 53.5,12 50.2,12" fill="#0070D8"/>
<rect x="55" y="7.2" width="4.8" height="1.7" fill="#E4F2FF"/>
<path d="M53.5 4.4V11.5" stroke="#BFE4FF" stroke-width="0.7"/>
<path d="M50.2 18.6 C47.6 18.6 47.6 14.6 50.2 14.4 C50.4 12.4 53 11.8 54.2 13 C55.2 10.8 58.8 10.8 59.4 13.2 C61.4 12.4 63 13.6 62.6 15 C64.6 15.4 64.4 18.6 62.2 18.6 Z" fill="url(#cloud)" stroke="#40609C" stroke-width="0.9"/>
<g fill="none" stroke-width="1.3">
<path d="M84.3 3.2 A7.6 7.6 0 0 0 84.3 18.4" stroke="#5C80D8" opacity="0.6"/>
<path d="M84.3 5.7 A5.1 5.1 0 0 0 84.3 15.9" stroke="#3C68D0" opacity="0.75"/>
<path d="M84.3 3.2 A7.6 7.6 0 0 1 84.3 18.4" stroke="#58A058" opacity="0.6"/>
<path d="M84.3 5.7 A5.1 5.1 0 0 1 84.3 15.9" stroke="#78B478" opacity="0.6"/>
</g>
<path d="M84.3 10.9 L84.3 18.4 A7.6 7.6 0 0 0 91.6 13 Z" fill="#58B058" opacity="0.45"/>
<circle cx="84.3" cy="10.4" r="1.9" fill="#2A58D0"/>
<path d="M84.7 11V18.4" stroke="#18A828" stroke-width="1.2"/><path d="M84.7 18.2 Q87.6 18 89.4 16.2" stroke="#28A838" stroke-width="1.1" fill="none"/>
<polygon points="103.5,10 118.5,9 116,15 110.5,18.8" fill="#F4D848" stroke="#D0A020" stroke-width="0.6"/>
<ellipse cx="111" cy="7.9" rx="7.8" ry="3" fill="url(#hat)" stroke="#2878B0" stroke-width="0.5"/>
<path d="M106.8 7.6 C106.8 1.6 115.4 1.6 115.4 7.6 C113 8.8 109.2 8.8 106.8 7.6Z" fill="#68BCEC" stroke="#3C90C8" stroke-width="0.4"/>
<circle cx="115.5" cy="14.6" r="4.2" fill="#D82010"/><rect x="113.9" y="13" width="3.2" height="3.2" fill="#fff"/>
<text x="124" y="14.1" font-family="'Liberation Sans','Noto Sans CJK SC',sans-serif" font-size="12px" fill="#000" stroke="#000" stroke-width="0.25">自动交易</text>
<rect x="179" y="0" width="1" height="22" fill="#A0A0A0" shape-rendering="crispEdges"/><rect x="180" y="0" width="1" height="22" fill="#FFFFFF" shape-rendering="crispEdges"/>
<rect x="183" y="1" width="3" height="1" fill="#ADADAD" shape-rendering="crispEdges"/>
<rect x="183" y="3" width="3" height="1" fill="#ADADAD" shape-rendering="crispEdges"/>
<rect x="183" y="5" width="3" height="1" fill="#ADADAD" shape-rendering="crispEdges"/>
<rect x="183" y="7" width="3" height="1" fill="#ADADAD" shape-rendering="crispEdges"/>
<rect x="183" y="9" width="3" height="1" fill="#ADADAD" shape-rendering="crispEdges"/>
<rect x="183" y="11" width="3" height="1" fill="#ADADAD" shape-rendering="crispEdges"/>
<rect x="183" y="13" width="3" height="1" fill="#ADADAD" shape-rendering="crispEdges"/>
<rect x="183" y="15" width="3" height="1" fill="#ADADAD" shape-rendering="crispEdges"/>
<rect x="183" y="17" width="3" height="1" fill="#ADADAD" shape-rendering="crispEdges"/>
<rect x="183" y="19" width="3" height="1" fill="#ADADAD" shape-rendering="crispEdges"/>
<g stroke="#505050" stroke-width="1.1" fill="none"><path d="M197.4 5.2V19"/><path d="M194.8 16.5H208.4"/></g>
<polygon points="195.6,7.2 197.4,4.6 199.20000000000002,7.2" fill="#505050"/><polygon points="207.20000000000002,14.7 209.6,16.5 207.20000000000002,18.3" fill="#505050"/>
<path d="M203.5 6V14.8M203.5 7.4H206.2M203.5 13.5H201" stroke="#109020" stroke-width="1.3" fill="none"/>
<rect x="217" y="0" width="1" height="21" fill="#9A9A9A" shape-rendering="crispEdges"/>
<rect x="218" y="0" width="24" height="21" fill="url(#chk)" shape-rendering="crispEdges"/>
<g stroke="#505050" stroke-width="1.1" fill="none"><path d="M225.4 5.2V19"/><path d="M222.8 16.5H236.4"/></g>
<polygon points="223.6,7.2 225.4,4.6 227.20000000000002,7.2" fill="#505050"/><polygon points="235.20000000000002,14.7 237.6,16.5 235.20000000000002,18.3" fill="#505050"/>
<path d="M231.4 3V14.8" stroke="#0C8C18" stroke-width="1.2"/><rect x="229.2" y="5.4" width="4.4" height="7.4" fill="url(#grn)" stroke="#0C9418" stroke-width="0.9"/>
<g stroke="#505050" stroke-width="1.1" fill="none"><path d="M253.5 5.2V19"/><path d="M250.9 16.5H264.5"/></g>
<polygon points="251.7,7.2 253.5,4.6 255.3,7.2" fill="#505050"/><polygon points="263.3,14.7 265.7,16.5 263.3,18.3" fill="#505050"/>
<path d="M252 13.8 C254 12.5 256 8.2 258.2 8.2 C260 8.2 261.5 11.5 263.8 12.4" stroke="#188C20" stroke-width="1.2" fill="none"/>
<rect x="274" y="0" width="1" height="21" fill="#9A9A9A" shape-rendering="crispEdges"/>
<path d="M293 13.100000000000001 L297.8 17.8" stroke="#A88400" stroke-width="3.2" stroke-linecap="round"/><path d="M293 13.100000000000001 L297.6 17.6" stroke="#F0D430" stroke-width="1.8" stroke-linecap="round"/>
<circle cx="289" cy="8.8" r="5.6" fill="url(#lens)" stroke="#2878C8" stroke-width="1.2"/>
<path d="M286 8.8H292" stroke="#3088B8" stroke-width="1.7"/>
<path d="M289 5.8V11.8" stroke="#3088B8" stroke-width="1.7"/>
<path d="M321 13.100000000000001 L325.8 17.8" stroke="#A88400" stroke-width="3.2" stroke-linecap="round"/><path d="M321 13.100000000000001 L325.6 17.6" stroke="#F0D430" stroke-width="1.8" stroke-linecap="round"/>
<circle cx="317" cy="8.8" r="5.6" fill="url(#lens)" stroke="#2878C8" stroke-width="1.2"/>
<path d="M314 8.8H320" stroke="#3088B8" stroke-width="1.7"/>
<rect x="339" y="3.2" width="8" height="7.8" fill="url(#tg)"/>
<path d="M340.2 6.2H345.8V9.8H344.8V8.8H341.2V9.8H340.2Z" fill="#fff"/>
<rect x="340" y="4.2" width="1" height="1" fill="#CFE8CF"/>
<rect x="347" y="3.2" width="8" height="7.8" fill="url(#tbq)"/>
<path d="M348.2 6.2H353.8V9.8H352.8V8.8H349.2V9.8H348.2Z" fill="#fff"/>
<rect x="348" y="4.2" width="1" height="1" fill="#CFE8CF"/>
<rect x="339" y="11.2" width="8" height="7.8" fill="url(#tbq)"/>
<path d="M340.2 14.2H345.8V17.799999999999997H344.8V16.799999999999997H341.2V17.799999999999997H340.2Z" fill="#fff"/>
<rect x="340" y="12.2" width="1" height="1" fill="#CFE8CF"/>
<rect x="347" y="11.2" width="8" height="7.8" fill="url(#tg)"/>
<path d="M348.2 14.2H353.8V17.799999999999997H352.8V16.799999999999997H349.2V17.799999999999997H348.2Z" fill="#fff"/>
<rect x="348" y="12.2" width="1" height="1" fill="#CFE8CF"/>
<rect x="364" y="0" width="1" height="21" fill="#9A9A9A" shape-rendering="crispEdges"/>
<rect x="369" y="0" width="1" height="21" fill="#9A9A9A" shape-rendering="crispEdges"/>
<rect x="370" y="0" width="24" height="21" fill="url(#chk)" shape-rendering="crispEdges"/>
<g stroke="#505050" stroke-width="1.1" fill="none"><path d="M377.4 5.2V19"/><path d="M374.79999999999995 16.5H388.4"/></g>
<polygon points="375.59999999999997,7.2 377.4,4.6 379.2,7.2" fill="#505050"/><polygon points="387.2,14.7 389.59999999999997,16.5 387.2,18.3" fill="#505050"/>
<polygon points="382.3,7.2 386,10.5 382.3,13.8" fill="#80E890" stroke="#10A020" stroke-width="1"/>
<rect x="397" y="0" width="1" height="21" fill="#9A9A9A" shape-rendering="crispEdges"/>
<rect x="398" y="0" width="24" height="21" fill="url(#chk)" shape-rendering="crispEdges"/>
<g stroke="#505050" stroke-width="1.1" fill="none"><path d="M405.4 5.2V19"/><path d="M402.79999999999995 16.5H416.4"/></g>
<polygon points="403.59999999999997,7.2 405.4,4.6 407.2,7.2" fill="#505050"/><polygon points="415.2,14.7 417.59999999999997,16.5 415.2,18.3" fill="#505050"/>
<path d="M411.5 5.3V14.7" stroke="#1070B0" stroke-width="1.2"/><path d="M412.6 10.6H417" stroke="#D84000" stroke-width="1.1"/><polygon points="412.4,10.6 415.2,8.6 415.2,12.6" fill="#E04800"/>
<rect x="426" y="0" width="1" height="21" fill="#9A9A9A" shape-rendering="crispEdges"/>
<path d="M437.5 3.6H444.8L447.4 6.2V16.6H437.5Z" fill="#FDFDFD" stroke="#909090" stroke-width="0.9"/><path d="M444.8 3.6V6.2H447.4" fill="#E0E0E0" stroke="#909090" stroke-width="0.7"/>
<path d="M439.8 7.2 q-1.2 3.5 0 7" stroke="#807868" stroke-width="1" fill="none"/>
<path d="M444.4 9.4H447.8V13.2H451.6V16.6H447.8V20.4H444.4V16.6H440.6V13.2H444.4Z" fill="url(#plus)" stroke="#0C8C10" stroke-width="0.7"/>
<polygon points="458,10 463.4,10 460.7,13" fill="#000"/>
<circle cx="482" cy="10.9" r="6.7" fill="#F4F8FF" stroke="#0C5CD0" stroke-width="2.7"/><circle cx="482" cy="10.9" r="8" fill="none" stroke="#0848A8" stroke-width="0.5"/>
<path d="M481.5 6.8V11.3H484.6" stroke="#202020" stroke-width="1.2" fill="none"/>
<g fill="#A0A0A0"><rect x="481.6" y="5" width="0.8" height="1"/><rect x="476.3" y="10.5" width="1" height="0.8"/><rect x="486.8" y="10.5" width="1" height="0.8"/><rect x="478" y="7" width="0.8" height="0.8"/><rect x="485.4" y="7" width="0.8" height="0.8"/><rect x="478" y="14.4" width="0.8" height="0.8"/><rect x="485.4" y="14.4" width="0.8" height="0.8"/></g><rect x="481" y="13.6" width="2" height="0.9" fill="#60A8F0"/>
<polygon points="497,10 502.4,10 499.7,13" fill="#000"/>
<rect x="513.4" y="4.2" width="15.2" height="13.2" fill="#FFFFFF" stroke="#2C6CC8" stroke-width="1"/><rect x="513.4" y="4.2" width="15.2" height="1.8" fill="#4C90E0"/><path d="M513.4 12H528.6" stroke="#2C6CC8" stroke-width="0.9"/>
<path d="M515.2 10.4H517.2L518.6 9.2H520L521.2 8.4H522.6L523.8 9.4H525.2L526.8 8.4" stroke="#A02C10" stroke-width="1.1" fill="none"/>
<path d="M516 15.4H517.6L518.8 14.6H520.4L521.4 15.6L523.6 13.2L525.6 14.4L527 15.6" stroke="#108020" stroke-width="1.1" fill="none"/>
<polygon points="535.7,10 541.1,10 538.4000000000001,13" fill="#000"/>
<rect x="547" y="0" width="1" height="22" fill="#A0A0A0" shape-rendering="crispEdges"/><rect x="548" y="0" width="1" height="22" fill="#FFFFFF" shape-rendering="crispEdges"/>
<rect x="551" y="1" width="3" height="1" fill="#ADADAD" shape-rendering="crispEdges"/>
<rect x="551" y="3" width="3" height="1" fill="#ADADAD" shape-rendering="crispEdges"/>
<rect x="551" y="5" width="3" height="1" fill="#ADADAD" shape-rendering="crispEdges"/>
<rect x="551" y="7" width="3" height="1" fill="#ADADAD" shape-rendering="crispEdges"/>
<rect x="551" y="9" width="3" height="1" fill="#ADADAD" shape-rendering="crispEdges"/>
<rect x="551" y="11" width="3" height="1" fill="#ADADAD" shape-rendering="crispEdges"/>
<rect x="551" y="13" width="3" height="1" fill="#ADADAD" shape-rendering="crispEdges"/>
<rect x="551" y="15" width="3" height="1" fill="#ADADAD" shape-rendering="crispEdges"/>
<rect x="551" y="17" width="3" height="1" fill="#ADADAD" shape-rendering="crispEdges"/>
<rect x="551" y="19" width="3" height="1" fill="#ADADAD" shape-rendering="crispEdges"/>
<rect x="557" y="0" width="1" height="21" fill="#9A9A9A" shape-rendering="crispEdges"/>
<rect x="558" y="0" width="24" height="21" fill="url(#chk)" shape-rendering="crispEdges"/>
<polygon points="564.6,4.2 564.6,15.4 567.2,13 569.4,17.6 571.2,16.8 569.2,12.4 572.8,12.2" fill="#404040"/>
<path d="M597.5 4V19M590 11.5H605" stroke="#505050" stroke-width="1" shape-rendering="crispEdges"/><rect x="597" y="11" width="1" height="1" fill="#F0F0F0"/>
<rect x="614" y="0" width="1" height="21" fill="#9A9A9A" shape-rendering="crispEdges"/>
<path d="M631.5 5V18" stroke="#505050" stroke-width="1.1"/>
<path d="M653.6 11.5H666" stroke="#505050" stroke-width="1.1"/>
<path d="M682 18L694 5.2" stroke="#505050" stroke-width="1.1"/>
<g stroke="#484848" stroke-width="0.95" fill="none"><path d="M707.4 13.2L721 5.2"/><path d="M709 17.8L722.6 9.6"/><path d="M709.8 17.6L713.4 7.8"/><path d="M713.4 16L717 6"/><path d="M717 13.8L720.6 3.2"/></g>
<text x="718.7" y="19.7" font-family="'Liberation Sans',sans-serif" font-weight="bold" font-size="7px" fill="#303030">E</text>
<path d="M737 4.5H751" stroke="#505050" stroke-width="1" stroke-dasharray="1 1" shape-rendering="crispEdges"/>
<path d="M737 7.5H751" stroke="#505050" stroke-width="1" stroke-dasharray="1 1" shape-rendering="crispEdges"/>
<path d="M737 11.5H751" stroke="#505050" stroke-width="1" stroke-dasharray="1 1" shape-rendering="crispEdges"/>
<path d="M737 15.5H746" stroke="#505050" stroke-width="1" stroke-dasharray="1 1" shape-rendering="crispEdges"/>
<text x="746.8" y="19.7" font-family="'Liberation Sans',sans-serif" font-weight="bold" font-size="7px" fill="#303030">F</text>
<text x="767.4" y="15.9" font-family="'Liberation Sans',sans-serif" font-size="12.6px" fill="#505050" stroke="#505050" stroke-width="0.45">A</text>
<rect x="794.3" y="5.7" width="11.4" height="11.6" fill="none" stroke="#505050" stroke-width="1" stroke-dasharray="1 1.08"/><rect x="793" y="4.4" width="1.6" height="1.2" fill="#505050"/>
<text x="795.9" y="15.9" font-family="'Liberation Sans',sans-serif" font-weight="bold" font-size="10.8px" fill="#505050">T</text>
<polygon points="824.4,4.8 827.8,8.2 826,9.4 822.8,9.4 821,8.2" fill="#505050"/>
<path d="M823.3 12.6L825.7 14.4L829.8 9.4" stroke="#505050" stroke-width="1.2" fill="none"/>
<polygon points="831.6,17.8 835,14.4 833.2,13.4 830,13.4 828.2,14.4" fill="#505050"/>
<polygon points="841.8,10 847.1999999999999,10 844.5,13" fill="#000"/>
<rect x="853" y="0" width="1" height="23" fill="#A0A0A0" shape-rendering="crispEdges"/><rect x="854" y="0" width="1" height="23" fill="#FFFFFF" shape-rendering="crispEdges"/>
<rect x="857" y="1" width="3" height="1" fill="#ADADAD" shape-rendering="crispEdges"/>
<rect x="857" y="3" width="3" height="1" fill="#ADADAD" shape-rendering="crispEdges"/>
<rect x="857" y="5" width="3" height="1" fill="#ADADAD" shape-rendering="crispEdges"/>
<rect x="857" y="7" width="3" height="1" fill="#ADADAD" shape-rendering="crispEdges"/>
<rect x="857" y="9" width="3" height="1" fill="#ADADAD" shape-rendering="crispEdges"/>
<rect x="857" y="11" width="3" height="1" fill="#ADADAD" shape-rendering="crispEdges"/>
<rect x="857" y="13" width="3" height="1" fill="#ADADAD" shape-rendering="crispEdges"/>
<rect x="857" y="15" width="3" height="1" fill="#ADADAD" shape-rendering="crispEdges"/>
<rect x="857" y="17" width="3" height="1" fill="#ADADAD" shape-rendering="crispEdges"/>
<rect x="857" y="19" width="3" height="1" fill="#ADADAD" shape-rendering="crispEdges"/>
<rect x="1003" y="0" width="1" height="21" fill="#9A9A9A" shape-rendering="crispEdges"/>
<rect x="1004" y="0" width="25" height="21" fill="url(#chk)" shape-rendering="crispEdges"/>
<text x="868.2" y="14.9" font-family="'Liberation Sans',sans-serif" font-size="9.6px" fill="#3C3C3C" textLength="13.5" lengthAdjust="spacingAndGlyphs">M1</text>
<text x="896.4" y="14.9" font-family="'Liberation Sans',sans-serif" font-size="9.6px" fill="#3C3C3C" textLength="13.3" lengthAdjust="spacingAndGlyphs">M5</text>
<text x="922.1" y="14.9" font-family="'Liberation Sans',sans-serif" font-size="9.6px" fill="#3C3C3C" textLength="18.5" lengthAdjust="spacingAndGlyphs">M15</text>
<text x="950.1" y="14.9" font-family="'Liberation Sans',sans-serif" font-size="9.6px" fill="#3C3C3C" textLength="18.9" lengthAdjust="spacingAndGlyphs">M30</text>
<text x="981.1" y="14.9" font-family="'Liberation Sans',sans-serif" font-size="9.6px" fill="#3C3C3C" textLength="12.5" lengthAdjust="spacingAndGlyphs">H1</text>
<text x="1008.1" y="14.9" font-family="'Liberation Sans',sans-serif" font-size="9.6px" fill="#3C3C3C" textLength="13.0" lengthAdjust="spacingAndGlyphs">H4</text>
<text x="1036.9" y="14.9" font-family="'Liberation Sans',sans-serif" font-size="9.6px" fill="#3C3C3C" textLength="12.9" lengthAdjust="spacingAndGlyphs">D1</text>
<text x="1064.4" y="14.9" font-family="'Liberation Sans',sans-serif" font-size="9.6px" fill="#3C3C3C" textLength="15.5" lengthAdjust="spacingAndGlyphs">W1</text>
<text x="1091.1" y="14.9" font-family="'Liberation Sans',sans-serif" font-size="9.6px" fill="#3C3C3C" textLength="15.7" lengthAdjust="spacingAndGlyphs">MN</text>
<rect x="1114" y="0" width="1" height="23" fill="#A0A0A0" shape-rendering="crispEdges"/><rect x="1115" y="0" width="1" height="23" fill="#FFFFFF" shape-rendering="crispEdges"/>
<circle cx="1584.7" cy="8.5" r="3.7" fill="#F4F4FF" stroke="#2858D0" stroke-width="1.2"/><path d="M1582 11.4L1577 16.2" stroke="#2858D0" stroke-width="2.2" stroke-linecap="round"/>
<path d="M1612 8.5 a6.3 4.6 0 1 1 8.6 4.2 l0.6 2.2 l-2.6 -1.8 a6.3 4.6 0 0 1 -6.6 -4.6z" fill="#F4F4F8" stroke="#989898" stroke-width="1"/>
<path d="M1603.4 12.6 a4.6 3.7 0 1 1 4.4 3.7 l-2.6 1.8 l0.4 -2.4 a4.6 3.7 0 0 1 -2.2 -3.1z" fill="#F0F0F6" stroke="#909090" stroke-width="1"/>
</svg>
<svg id="panel" width="220" height="70" viewBox="0 44 220 70" style="position:absolute;left:0;top:44px">
<defs>
<linearGradient id="pg" gradientUnits="userSpaceOnUse" x1="0" y1="47" x2="0" y2="111"><stop offset="0" stop-color="#5C5CFF"/><stop offset="0.4" stop-color="#3030DD"/><stop offset="1" stop-color="#0000A4"/></linearGradient>
</defs>
<rect x="0" y="44" width="220" height="67" fill="#fff"/>
<g shape-rendering="crispEdges">
<rect x="0" y="47" width="51" height="25" fill="url(#pg)"/>
<rect x="166" y="47" width="52" height="25" fill="url(#pg)"/>
<rect x="0" y="71" width="108" height="40" fill="url(#pg)"/>
<rect x="110" y="71" width="108" height="40" fill="url(#pg)"/>
<rect x="0" y="47" width="51" height="1" fill="#2A2AC0"/>
<rect x="166" y="47" width="52" height="1" fill="#2A2AC0"/>
<rect x="3" y="70" width="44" height="1" fill="#2020B8"/>
<rect x="3" y="71" width="44" height="1" fill="#7C7CF0"/>
<rect x="170" y="70" width="44" height="1" fill="#2020B8"/>
<rect x="170" y="71" width="44" height="1" fill="#7C7CF0"/>
<!-- spin -->
<rect x="53" y="47" width="111" height="22" fill="#ABABAB"/>
<rect x="54" y="48" width="109" height="20" fill="#fff"/>
<rect x="54" y="48" width="20" height="20" fill="#E6E6E6"/>
<rect x="74" y="48" width="1" height="20" fill="#ABABAB"/>
<rect x="143" y="48" width="20" height="20" fill="#E6E6E6"/>
<rect x="142" y="48" width="1" height="20" fill="#ABABAB"/>
</g>
<polygon points="61,56 67,56 64,59.5" fill="#000"/>
<polygon points="150,59.5 156,59.5 153,56" fill="#000"/>
<g font-family="'Liberation Sans',sans-serif" fill="#fff">
<text x="11.6" y="63" font-size="12px" fill="#E8E8FF" textLength="25.6" lengthAdjust="spacingAndGlyphs">SELL</text>
<text x="179" y="63" font-size="12px" fill="#E8E8FF">BUY</text>
<text x="139" y="62.5" font-size="12px" fill="#000" text-anchor="end">0.10</text>
<text x="23" y="102" font-size="12px" font-weight="bold">109</text>
<text x="45.4" y="102.4" font-size="35px" textLength="36.8" lengthAdjust="spacingAndGlyphs">07</text>
<text x="86.5" y="85.7" font-size="12px" font-weight="bold">7</text>
<text x="132.8" y="102" font-size="12px" font-weight="bold">109</text>
<text x="158.2" y="102.4" font-size="35px" textLength="36.6" lengthAdjust="spacingAndGlyphs">11</text>
<text x="197.2" y="85.7" font-size="12px" font-weight="bold">0</text>
</g>
</svg>

</body></html>
